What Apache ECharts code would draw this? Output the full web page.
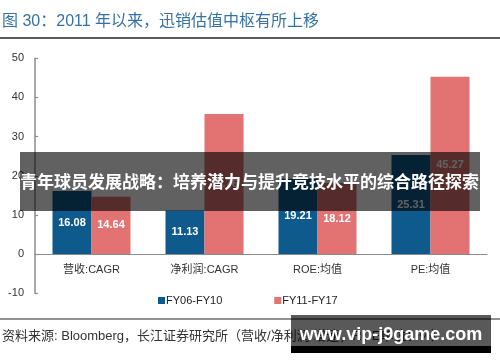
<!DOCTYPE html>
<html><head><meta charset="utf-8">
<script src="https://cdn.jsdelivr.net/npm/echarts@6/dist/echarts.min.js"></script>
<style>html,body{margin:0;padding:0;background:#fff}#c{width:500px;height:362px}</style>
</head><body><div id="c"></div>
<script>
const categories = ['营收:CAGR', '净利润:CAGR', 'ROE:均值', 'PE:均值'];
const seriesNames = ['FY06-FY10', 'FY11-FY17'];
const fy06_10 = [16.08, 11.13, 19.21, 25.31];
const fy11_17 = [14.64, 35.76, 18.12, 45.27];
const yTicks = {min: -10, max: 50, interval: 10};
const titleText = '图 30：2011 年以来，迅销估值中枢有所上移';
const sourceText = '资料来源: Bloomberg，长江证券研究所（营收/净利润:增速，ROE单位：%）';
const bannerText = '青年球员发展战略：培养潜力与提升竞技水平的综合路径探索';
const watermarkText = 'www.vip-j9game.com';

const font = 'Liberation Sans, Arial, Noto Sans CJK SC, sans-serif';
const chart = echarts.init(document.getElementById('c'), null, {renderer: 'canvas'});
const labelCfg = {show: true, position: 'inside', color: '#fff', fontWeight: 'bold', fontSize: 11, fontFamily: font};
const gridTop = 58.3, gridBottom = 68.8;
const plotH = 362 - gridTop - gridBottom;
const zeroOffset = plotH * (0 - yTicks.min) / (yTicks.max - yTicks.min);
chart.setOption({
  animation: false,
  textStyle: {fontFamily: font},
  grid: {left: 35, right: 13, top: gridTop, bottom: gridBottom, containLabel: false},
  legend: {
    left: 153, top: 290, itemWidth: 7, itemHeight: 7, itemGap: 52,
    icon: 'rect',
    textStyle: {fontSize: 11, color: '#222', fontFamily: font, padding: [0, 0, 0, -4]},
    data: seriesNames
  },
  xAxis: {
    type: 'category', data: categories, position: 'bottom', offset: -zeroOffset,
    axisLine: {onZero: false, lineStyle: {color: '#8c8c8c', width: 1.2}},
    axisTick: {show: false},
    axisLabel: {color: '#333', fontSize: 11, margin: 10, fontFamily: font}
  },
  yAxis: {
    type: 'value', min: yTicks.min, max: yTicks.max, interval: yTicks.interval,
    axisLine: {show: true, lineStyle: {color: '#8c8c8c', width: 1.5}},
    axisTick: {show: true, inside: true, length: 3, lineStyle: {color: '#8c8c8c', width: 1.2}},
    splitLine: {show: false},
    axisLabel: {color: '#333', fontSize: 11, margin: 11, fontFamily: font}
  },
  series: [
    {name: seriesNames[0], type: 'bar', data: fy06_10, barWidth: 39, barGap: '0%',
     itemStyle: {color: '#0f5a8c'}, label: labelCfg},
    {name: seriesNames[1], type: 'bar', data: fy11_17, barWidth: 39,
     itemStyle: {color: '#e37272'}, label: labelCfg}
  ],
  graphic: [
    {type: 'text', left: 2, top: 14, z: 10, style: {text: titleText, font: '16px ' + font, fill: '#3572a3'}},
    {type: 'line', z: 10, shape: {x1: 0, y1: 38, x2: 500, y2: 38}, style: {stroke: '#222', lineWidth: 1.5}},
    {type: 'line', z: 10, shape: {x1: 0, y1: 319, x2: 500, y2: 319}, style: {stroke: '#222', lineWidth: 1.2}},
    {type: 'text', left: 2, top: 330, z: 10, style: {text: sourceText, font: '13px ' + font, fill: '#333'}},
    {type: 'rect', z: 100, shape: {x: 20, y: 152, width: 460, height: 59}, style: {fill: 'rgba(0,0,0,0.62)'}},
    {type: 'text', z: 101, x: 20, y: 182, style: {text: bannerText, font: 'bold 17px Noto Sans CJK SC, sans-serif', fill: '#fff', textVerticalAlign: 'middle'}},
    {type: 'rect', z: 100, shape: {x: 291, y: 315, width: 200, height: 31}, style: {fill: 'rgba(0,0,0,0.65)'}},
    {type: 'rect', z: 100, shape: {x: 291, y: 346, width: 200, height: 7}, style: {fill: '#000'}},
    {type: 'text', z: 101, x: 391, y: 335, style: {text: watermarkText, font: 'bold 18px ' + font, fill: '#fff', textAlign: 'center', textVerticalAlign: 'middle'}}
  ]
});
</script></body></html>
